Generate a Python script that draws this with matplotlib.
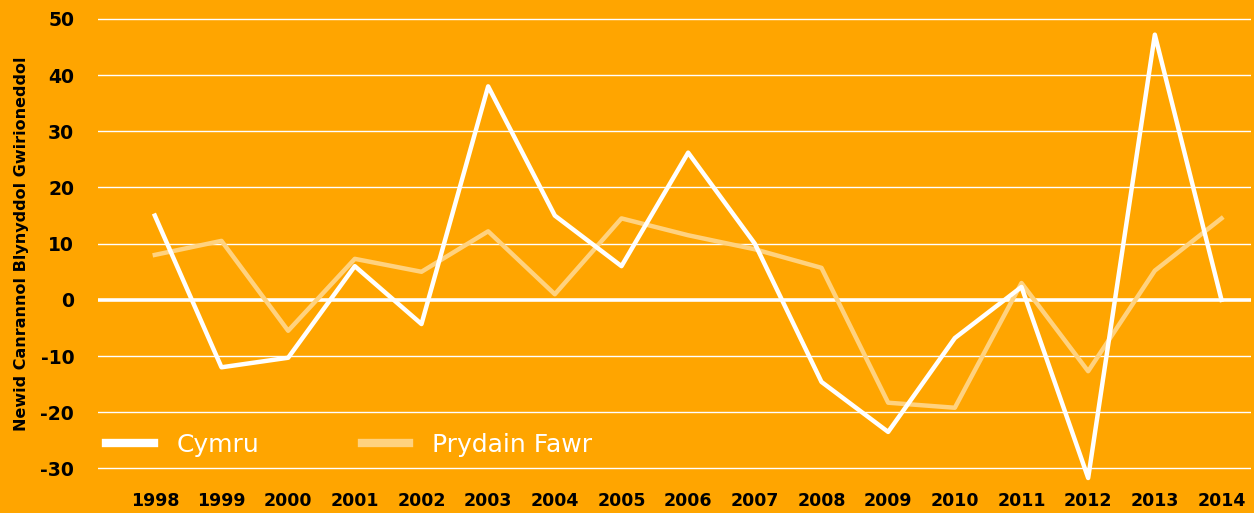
import numpy as np
import matplotlib.pyplot as plt
from matplotlib.ticker import FuncFormatter

# data
years = list(range(1998, 2015))
cymru = [15, -12, -10.3, 6, -4.3, 38, 15, 6, 26.2, 10, -14.6, -23.5, -6.8, 2.3, -31.7, 47.2, 0]
prydain_fawr = [8, 10.5, -5.5, 7.3, 5, 12.2, 1, 14.5, 11.5, 9, 5.7, -18.3, -19.2, 3, -12.7, 5.2, 14.5]
yticks = [-30, -20, -10, 0, 10, 20, 30, 40, 50]

bg = '#FFA500'
plt.rcParams['font.family'] = ['DejaVu Sans']

fig = plt.figure(figsize=(12.54, 5.13), dpi=100, facecolor=bg)
ax = fig.add_axes([0.078, 0.054, 0.920, 0.942], facecolor=bg)

# grid
for y in yticks:
    ax.axhline(y, color='white', lw=2.6 if y == 0 else 1.0, zorder=1)

ax.plot(years, prydain_fawr, color='#FFD27F', lw=3.2, label='Prydain Fawr', zorder=2)
ax.plot(years, cymru, color='white', lw=3.2, label='Cymru', zorder=3)

ax.set_xlim(1997.145, 2014.45)
ax.set_ylim(-33, 53)
ax.set_yticks(yticks)
ax.set_xticks(years)
ax.yaxis.set_major_formatter(FuncFormatter(lambda v, p: '%d' % v))
ax.tick_params(length=0)
ax.tick_params(axis='x', pad=5, labelsize=12.5)
ax.tick_params(axis='y', pad=17, labelsize=13.5)
for lab in ax.get_xticklabels() + ax.get_yticklabels():
    lab.set_fontweight('bold')
for s in ax.spines.values():
    s.set_visible(False)

ax.set_ylabel('Newid Canrannol Blynyddol Gwirioneddol', fontsize=11.5,
              fontweight='bold', labelpad=8)

handles, labels = ax.get_legend_handles_labels()
leg = ax.legend(handles[::-1], labels[::-1], loc='lower left', ncol=2,
                bbox_to_anchor=(-0.012, 0.012), frameon=False, fontsize=18,
                handlelength=1.9, handletextpad=0.9, columnspacing=4.1)
for t in leg.get_texts():
    t.set_color('white')
for h in leg.legend_handles:
    h.set_linewidth(6)

fig.savefig('out.png', dpi=100, facecolor=bg)
